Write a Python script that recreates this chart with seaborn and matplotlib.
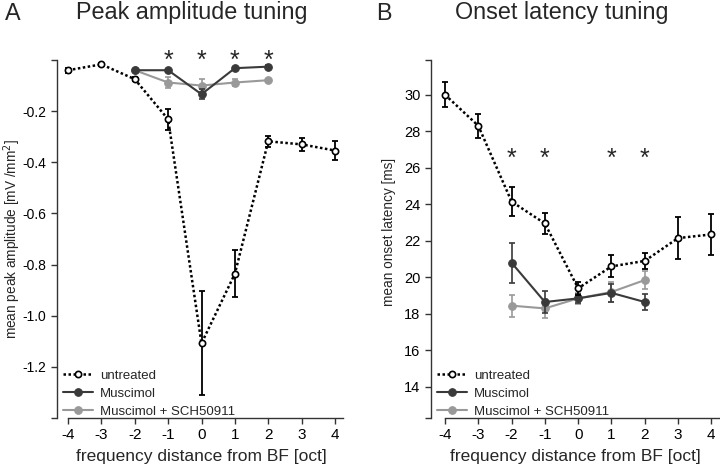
import numpy as np
import pandas as pd
import matplotlib
matplotlib.use("Agg")
import matplotlib.pyplot as plt
import seaborn as sns

# Valores (distância em oitavas a partir da BF)
x_all = [-4, -3, -2, -1, 0, 1, 2, 3, 4]
x_drug = [-2, -1, 0, 1, 2]

# Painel A - amplitude de pico (mV/mm2)
amp_untreated = [-0.04, -0.017, -0.075, -0.232, -1.108, -0.836, -0.318, -0.33, -0.354]
amp_untreated_err = [0.01, 0.005, 0.008, 0.04, 0.203, 0.092, 0.022, 0.026, 0.036]
amp_musc = [-0.04, -0.04, -0.134, -0.032, -0.026]
amp_musc_err = [0.005, 0.005, 0.02, 0.006, 0.005]
amp_sch = [-0.04, -0.088, -0.1, -0.088, -0.079]
amp_sch_err = [0.005, 0.02, 0.025, 0.015, 0.006]
amp_stars = [-1, 0, 1, 2]

# Painel B - latência de início (ms)
lat_untreated = [30.0, 28.3, 24.15, 22.95, 19.4, 20.6, 20.9, 22.15, 22.35]
lat_untreated_err = [0.7, 0.65, 0.8, 0.55, 0.35, 0.6, 0.45, 1.15, 1.1]
lat_musc = [20.8, 18.65, 18.85, 19.15, 18.65]
lat_musc_err = [1.1, 0.6, 0.25, 0.5, 0.45]
lat_sch = [18.45, 18.3, 18.85, 19.2, 19.85]
lat_sch_err = [0.6, 0.5, 0.3, 0.55, 0.5]
lat_stars = [-2, -1, 1, 2]

COR_MUSC = "#3a3a3a"
COR_SCH = "#999999"
COR_EIXO = "#333333"

sns.set_style("ticks")
plt.rcParams["font.family"] = ["Liberation Sans", "DejaVu Sans"]
plt.rcParams["axes.unicode_minus"] = False


def plot_panel(ax, unt, unt_err, musc, musc_err, sch, sch_err, stars, star_y):
    df_unt = pd.DataFrame({"x": x_all, "y": unt})
    df_musc = pd.DataFrame({"x": x_drug, "y": musc})
    df_sch = pd.DataFrame({"x": x_drug, "y": sch})

    # Barras de erro
    ax.errorbar(x_drug, sch, yerr=sch_err, fmt="none", ecolor=COR_SCH,
                elinewidth=1.2, capsize=2.5, capthick=1.2, zorder=2)
    ax.errorbar(x_drug, musc, yerr=musc_err, fmt="none", ecolor=COR_MUSC,
                elinewidth=1.2, capsize=2.5, capthick=1.2, zorder=3)
    ax.errorbar(x_all, unt, yerr=unt_err, fmt="none", ecolor="black",
                elinewidth=1.3, capsize=2.5, capthick=1.3, zorder=4)

    # Linhas com marcadores
    sns.lineplot(x="x", y="y", data=df_unt, ax=ax, label="untreated",
                 color="black", linestyle=(0, (1, 1)), linewidth=1.8,
                 marker="o", markersize=4.5, markerfacecolor="white",
                 markeredgecolor="black", markeredgewidth=1.2, zorder=5)
    sns.lineplot(x="x", y="y", data=df_musc, ax=ax, label="Muscimol",
                 color=COR_MUSC, linewidth=1.5, marker="o", markersize=5.5,
                 markeredgecolor=COR_MUSC, zorder=3)
    sns.lineplot(x="x", y="y", data=df_sch, ax=ax, label="Muscimol + SCH50911",
                 color=COR_SCH, linewidth=1.5, marker="o", markersize=5.5,
                 markeredgecolor=COR_SCH, zorder=2)

    # Asteriscos de significância
    for s in stars:
        ax.text(s, star_y, "*", ha="center", va="center", fontsize=18,
                clip_on=False)

    ax.set_xlabel("frequency distance from BF [oct]", fontsize=12.5, labelpad=5)
    ax.set_xticks(x_all)
    ax.set_xticklabels([str(v) for v in x_all], fontsize=11)

    for side in ["top", "right"]:
        ax.spines[side].set_visible(False)
    for side in ["left", "bottom"]:
        ax.spines[side].set_color(COR_EIXO)
        ax.spines[side].set_linewidth(1.0)
    ax.tick_params(colors=COR_EIXO, labelcolor="black", width=1.0, length=4)

    leg = ax.legend(loc="lower left", bbox_to_anchor=(0.02, 0.0), frameon=False,
                    fontsize=9.5, handlelength=2.3, handletextpad=0.5,
                    labelspacing=0.45, borderpad=0.0, borderaxespad=0.0)
    return leg


fig = plt.figure(figsize=(7.2, 4.7), dpi=100)
ax1 = fig.add_axes([57 / 720, 1 - 418 / 470, 288 / 720, 358 / 470])
ax2 = fig.add_axes([431 / 720, 1 - 418 / 470, 289 / 720, 358 / 470])

# Painel A
plot_panel(ax1, amp_untreated, amp_untreated_err, amp_musc, amp_musc_err,
           amp_sch, amp_sch_err, amp_stars, -0.003)
ax1.set_xlim(-4.33, 4.3)
ax1.set_ylim(-1.4, 0.0)
ax1.spines["bottom"].set_bounds(-4, 4.25)
yt1 = [0.0, -0.2, -0.4, -0.6, -0.8, -1.0, -1.2, -1.4]
ax1.set_yticks(yt1)
ax1.set_yticklabels([""] + ["%.1f" % v for v in yt1[1:-1]] + [""], fontsize=10)
ax1.set_ylabel("mean peak amplitude [mV /mm$^2$]", fontsize=9.8)
ax1.yaxis.set_label_coords(-0.118, 0.5)

# Painel B
plot_panel(ax2, lat_untreated, lat_untreated_err, lat_musc, lat_musc_err,
           lat_sch, lat_sch_err, lat_stars, 26.5)
ax2.set_xlim(-4.42, 4.26)
ax2.set_ylim(12.3, 31.9)
ax2.spines["bottom"].set_bounds(-4, 4.26)
yt2 = [31.9, 30, 28, 26, 24, 22, 20, 18, 16, 14, 12.3]
ax2.set_yticks(yt2)
ax2.set_yticklabels([""] + [str(v) for v in yt2[1:-1]] + [""], fontsize=10.5)
ax2.set_ylabel("mean onset latency [ms]", fontsize=9.8)
ax2.yaxis.set_label_coords(-0.12, 0.52)

# Títulos e letras dos painéis
fig.text(5 / 720, 1 - 13 / 470, "A", fontsize=16.8, va="center", ha="left")
fig.text(192 / 720, 1 - 13 / 470, "Peak amplitude tuning", fontsize=16.8,
         va="center", ha="center")
fig.text(376 / 720, 1 - 13 / 470, "B", fontsize=16.8, va="center", ha="left")
fig.text(562 / 720, 1 - 13 / 470, "Onset latency tuning", fontsize=16.8,
         va="center", ha="center")

plt.savefig("out.png", dpi=100)
